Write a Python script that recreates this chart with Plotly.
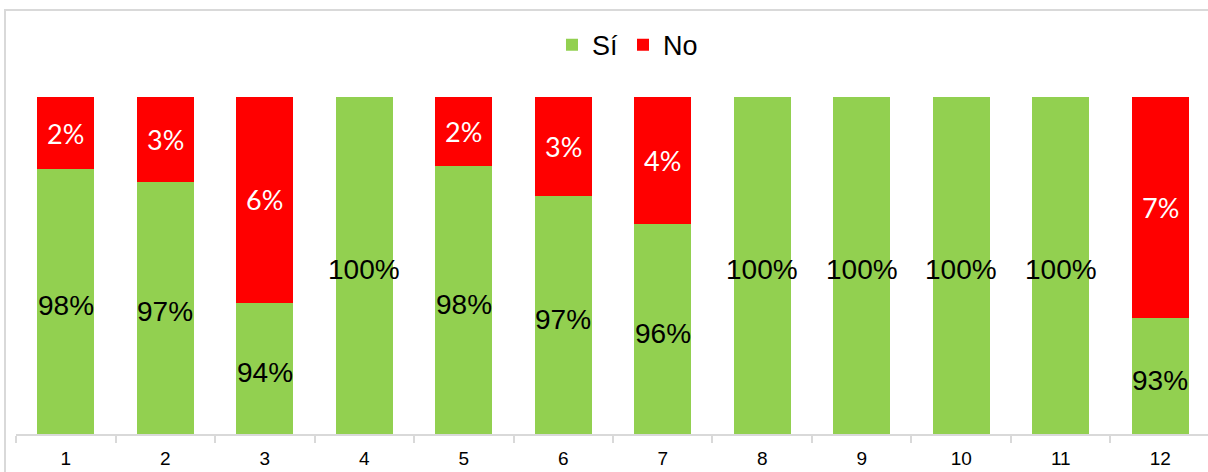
import plotly.graph_objects as go

categories = ["1", "2", "3", "4", "5", "6", "7", "8", "9", "10", "11", "12"]
no_values = [0.0214, 0.0252, 0.0611, 0.0, 0.0205, 0.0294, 0.0377, 0.0, 0.0, 0.0, 0.0, 0.0656]
si_values = [round(1 - v, 4) for v in no_values]

Y_MIN, Y_MAX = 0.9, 1.0
GREEN = "#92D050"
RED = "#FF0000"

fig = go.Figure()
fig.add_trace(go.Bar(x=categories, y=si_values, name="Sí", marker=dict(color=GREEN, line=dict(width=0))))
fig.add_trace(go.Bar(x=categories, y=no_values, name="No", marker=dict(color=RED, line=dict(width=0))))

annotations = []
for i, (s, n) in enumerate(zip(si_values, no_values)):
    annotations.append(dict(x=i, y=(Y_MIN + s) / 2, text=f"{round(s*100)}%", showarrow=False,
                            yshift=-4, font=dict(family="Liberation Sans, Arial", size=28, color="black")))
    if n > 0:
        annotations.append(dict(x=i, y=s + n / 2, text=f"{round(n*100)}%", showarrow=False,
                                 font=dict(family="Lato, Liberation Sans", size=27, color="white")))

fig.update_layout(
    barmode="stack",
    bargap=0.43,
    width=1208, height=472,
    margin=dict(l=16, r=0, t=97, b=38),
    paper_bgcolor="white", plot_bgcolor="white",
    font=dict(family="Liberation Sans, Arial", color="black"),
    showlegend=True,
    legend=dict(orientation="h", x=0.513, xanchor="center", y=1.154, yanchor="middle",
                font=dict(size=27), itemwidth=30, traceorder="normal"),
    annotations=annotations,
    xaxis=dict(type="category", range=[-0.5, 11.48], showline=True, linecolor="#D9D9D9", linewidth=2,
               ticks="outside", tickson="boundaries", ticklen=7, tickcolor="#D9D9D9", tickwidth=2,
               tickfont=dict(size=19, color="black"), ticklabelstandoff=6, showgrid=False),
    yaxis=dict(range=[Y_MIN, Y_MAX], showticklabels=False, showgrid=False, zeroline=False,
               showline=False, ticks=""),
    shapes=[dict(type="rect", xref="paper", yref="paper", x0=-0.00923, x1=1.02, y0=-0.3, y1=1.258,
                 line=dict(color="#D9D9D9", width=2), fillcolor="rgba(0,0,0,0)", layer="below")],
)

fig.write_html("out.html")
